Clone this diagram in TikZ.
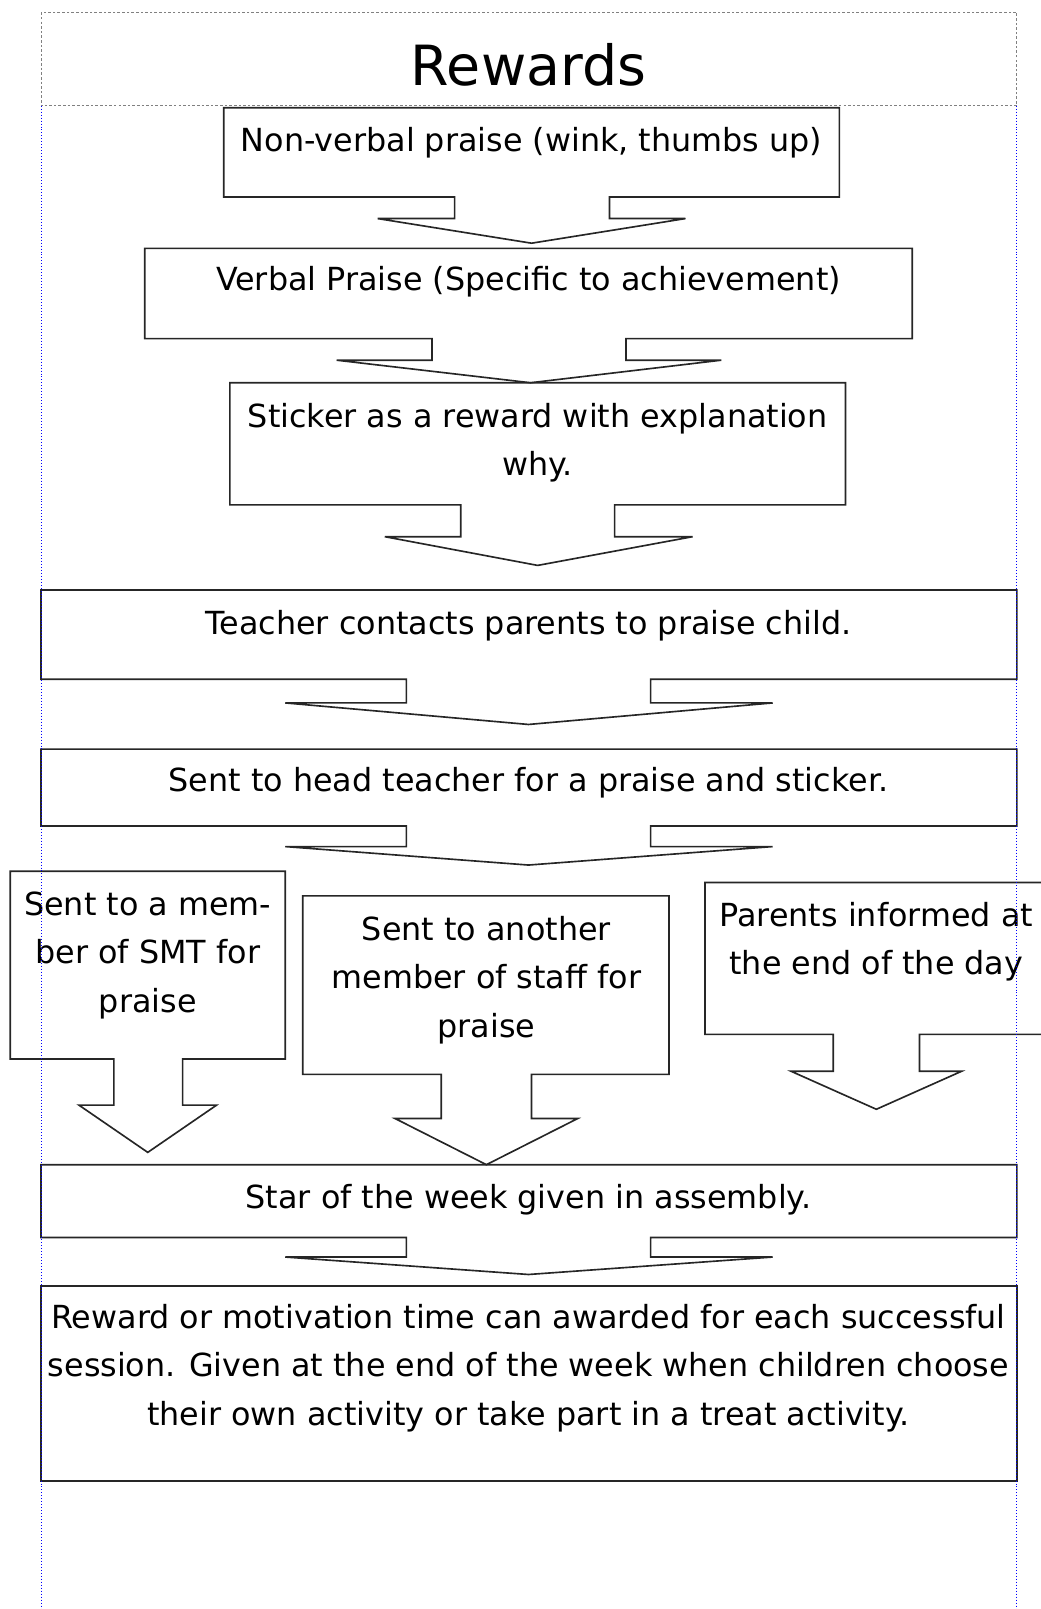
\documentclass[tikz,border=0pt]{standalone}
\usepackage{fontspec}
\setmainfont{DejaVu Sans}
\usetikzlibrary{calc}

\tikzset{
  calloutline/.style={black!85, line width=1.6pt, line join=miter},
  calloutlabel/.style={anchor=north, inner sep=0pt, align=center,
    font=\fontsize{31}{47}\selectfont, execute at begin node=\strut},
  pageguide/.style={blue, dotted, line width=0.9pt},
}

\begin{document}
\begin{tikzpicture}[x=1pt,y=-1pt]
\useasboundingbox (0,0) rectangle (1014,1568);
% title
\draw[gray, dash pattern=on 2.5pt off 2pt, line width=1pt] (40,12) rectangle (991,103);
\node[inner sep=0pt, anchor=base, font=\fontsize{54}{60}\selectfont] (title) at (515,83) {Rewards};

% rewards, one callout per step
\draw[calloutline] (218,105) -- (818,105) -- (818,192) -- (594,192) -- (594,213) -- (668,213) -- (518,237) -- (368,213) -- (443,213) -- (443,192) -- (218,192) -- cycle;
\node[calloutlabel] (nonverbal) at (518,115) {Non-verbal praise (wink, thumbs up)};

\draw[calloutline] (141,242) -- (889,242) -- (889,330) -- (610,330) -- (610,351) -- (703,351) -- (517,373) -- (328,351) -- (421,351) -- (421,330) -- (141,330) -- cycle;
\node[calloutlabel] (verbal) at (515,250) {Verbal Praise (Specific to achievement)};

\draw[calloutline] (224,373) -- (824,373) -- (824,492) -- (599,492) -- (599,523) -- (675,523) -- (524,551) -- (375,523) -- (449,523) -- (449,492) -- (224,492) -- cycle;
\node[calloutlabel] (sticker) at (524,393) {Sticker as a reward with explanation\\why.};

\draw[calloutline] (40,575) -- (991,575) -- (991,662) -- (634,662) -- (634,685) -- (753,685) -- (515,706) -- (278,685) -- (396,685) -- (396,662) -- (40,662) -- cycle;
\node[calloutlabel] (parents) at (515,585) {Teacher contacts parents to praise child.};

\draw[calloutline] (40,730) -- (991,730) -- (991,805) -- (634,805) -- (634,825) -- (753,825) -- (515,843) -- (278,825) -- (396,825) -- (396,805) -- (40,805) -- cycle;
\node[calloutlabel] (head) at (515,738) {Sent to head teacher for a praise and sticker.};

% three ways on
\draw[calloutline] (10,849) -- (278,849) -- (278,1032) -- (178,1032) -- (178,1077) -- (211,1077) -- (144,1123) -- (77,1077) -- (111,1077) -- (111,1032) -- (10,1032) -- cycle;
\node[calloutlabel] (smt) at (144,869) {Sent to a mem-\\ber of SMT for\\praise};

\draw[calloutline] (295,873) -- (652,873) -- (652,1047) -- (518,1047) -- (518,1090) -- (563,1090) -- (474,1135) -- (385,1090) -- (430,1090) -- (430,1047) -- (295,1047) -- cycle;
\node[calloutlabel] (staff) at (474,893) {Sent to another\\member of staff for\\praise};

\draw[calloutline] (687,860) -- (1021,860) -- (1021,1008) -- (896,1008) -- (896,1044) -- (937,1044) -- (854,1081) -- (771,1044) -- (812,1044) -- (812,1008) -- (687,1008) -- cycle;
\node[calloutlabel] (informed) at (854,879) {Parents informed at\\the end of the day};

\draw[calloutline] (40,1135) -- (991,1135) -- (991,1206) -- (634,1206) -- (634,1225) -- (753,1225) -- (515,1242) -- (278,1225) -- (396,1225) -- (396,1206) -- (40,1206) -- cycle;
\node[calloutlabel] (star) at (515,1145) {Star of the week given in assembly.};

\draw[calloutline] (40,1253) rectangle (991,1443);
\node[calloutlabel] (motivation) at (515,1271) {Reward or motivation time can awarded for each successful\\session. Given at the end of the week when children choose\\their own activity or take part in a treat activity.};

% page guides
\draw[pageguide] (40,103) -- (40,1568);
\draw[pageguide] (991,103) -- (991,1568);
\end{tikzpicture}
\end{document}
